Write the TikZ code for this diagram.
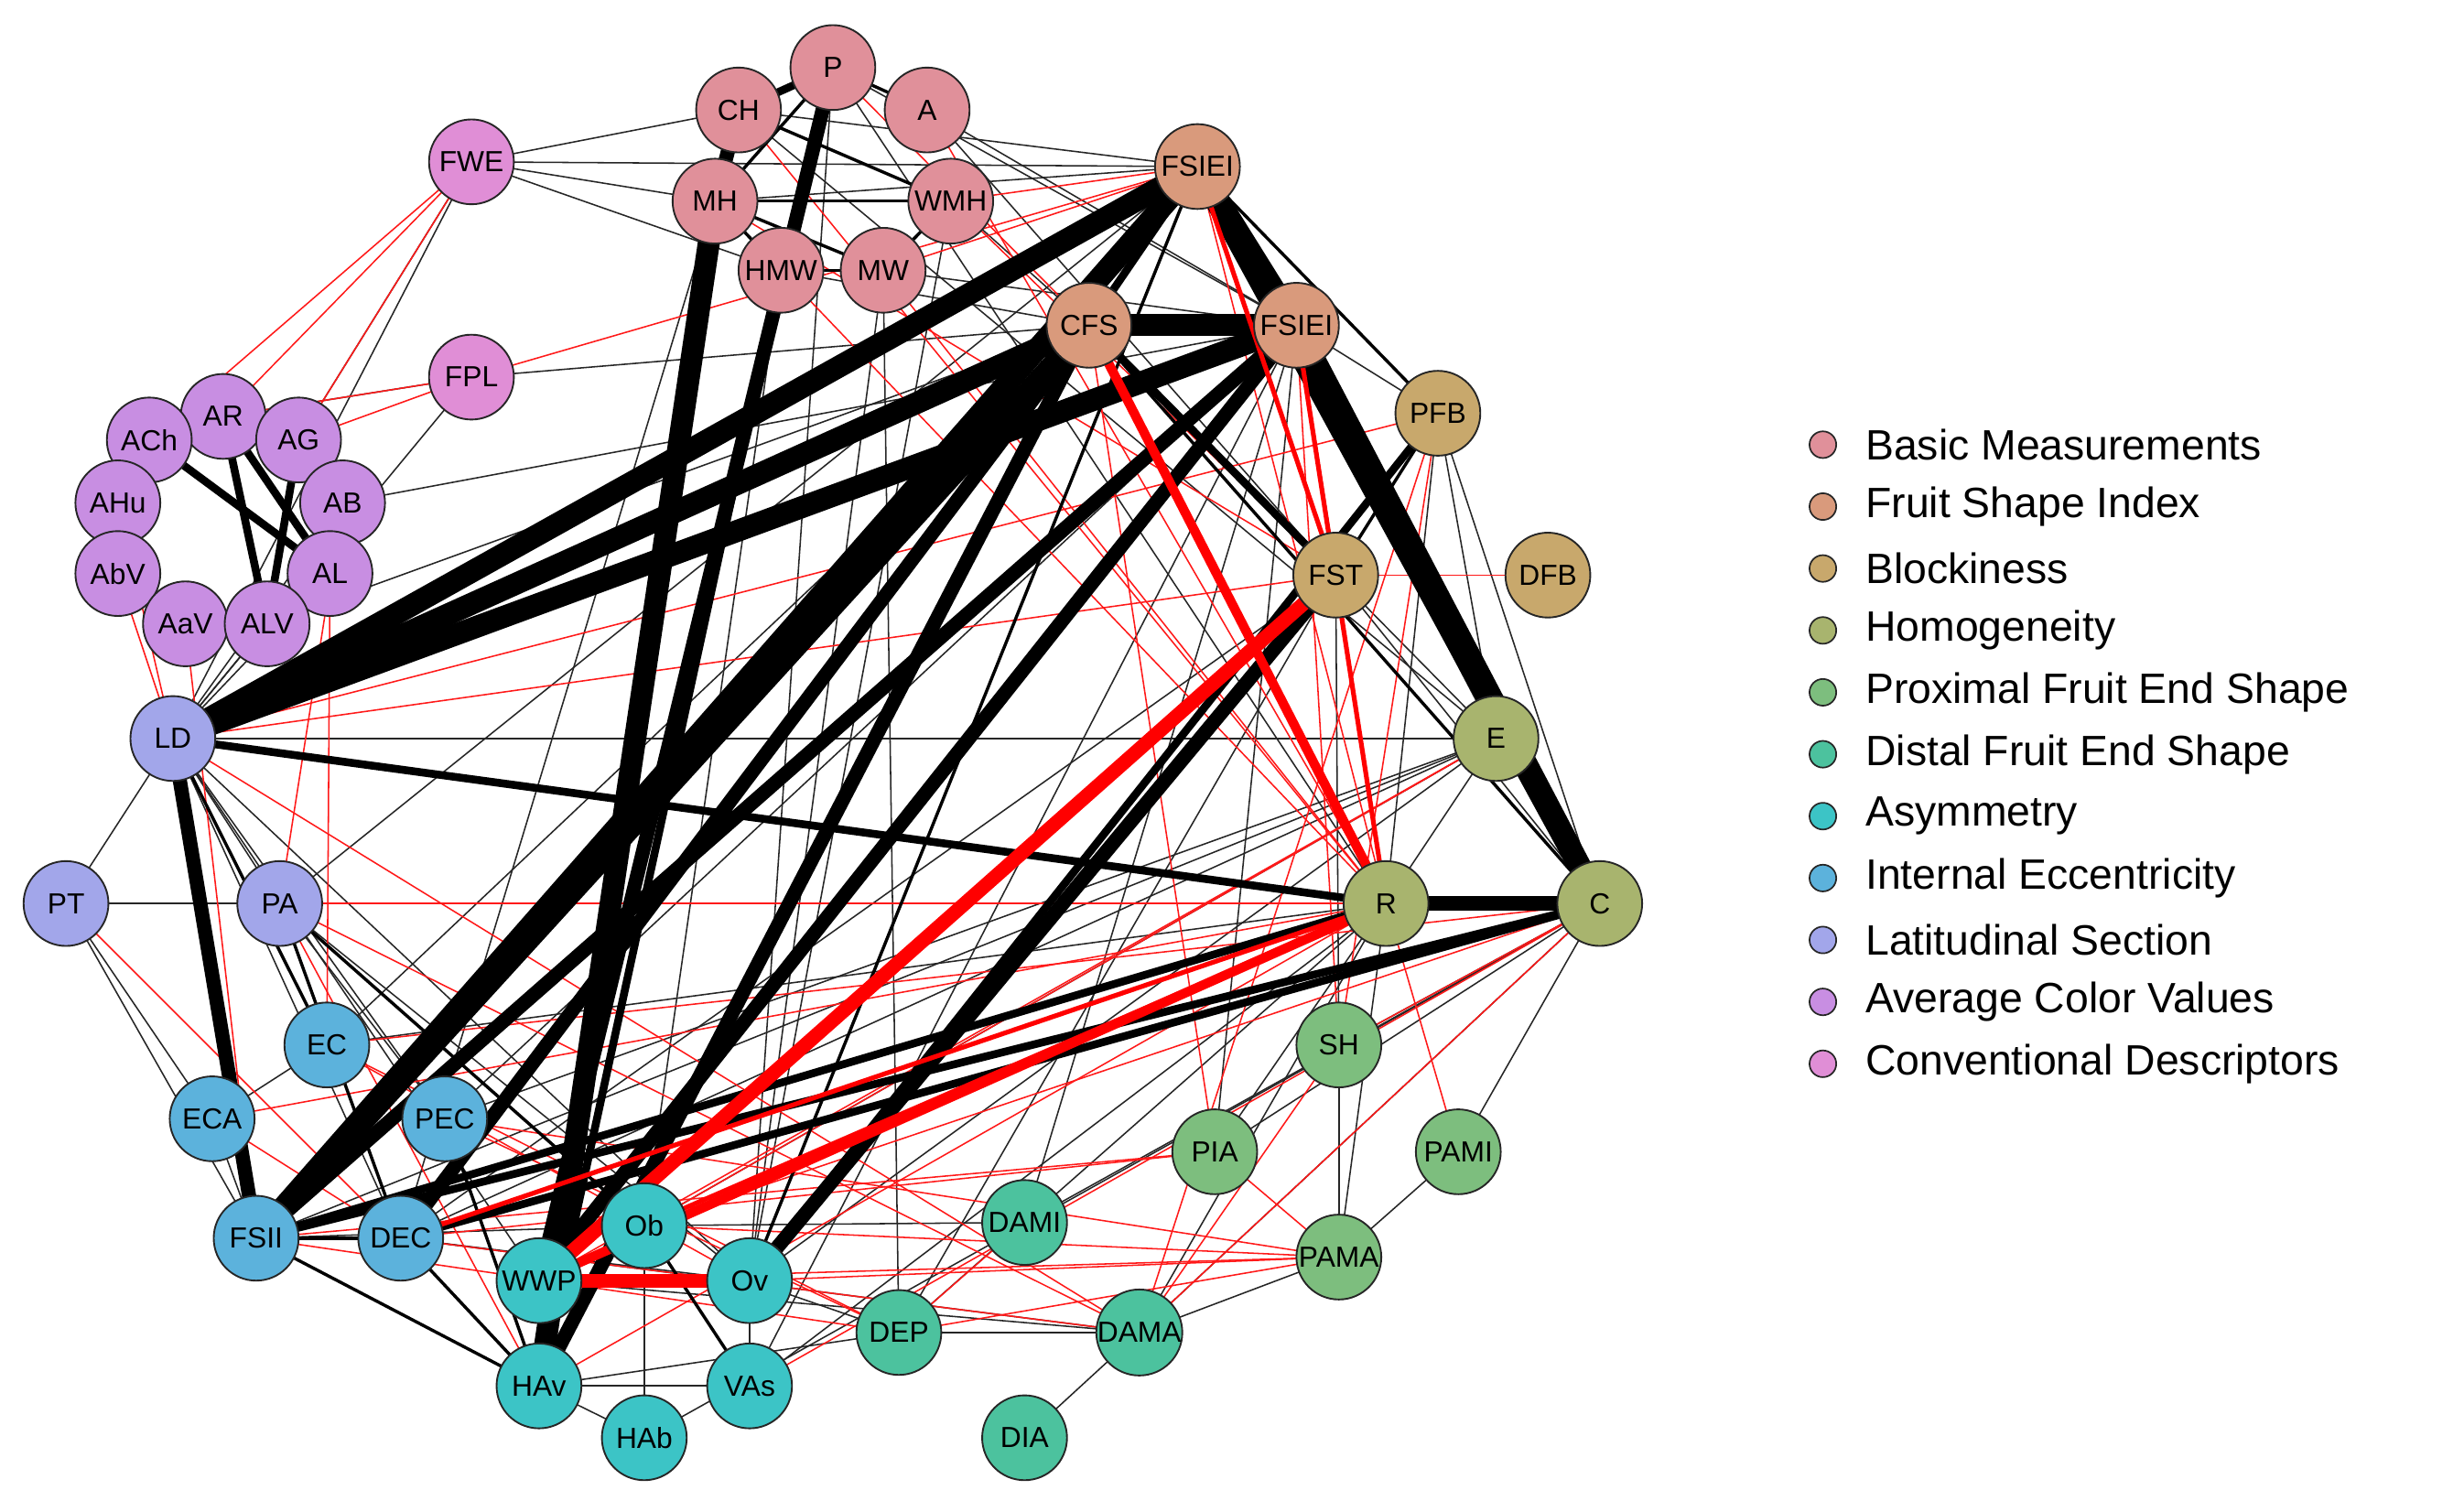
\documentclass[tikz,border=0pt]{standalone}
\usepackage{fontspec}
\setmainfont{Liberation Sans}
\begin{document}
\begin{tikzpicture}[x=1pt,y=-1pt,
 nd/.style={circle,draw=black!85,line width=1.1pt,minimum size=54pt,inner sep=0pt,font=\fontsize{18.5}{18.5}\selectfont},
 b1/.style={black!85,line width=0.9pt},
 b2/.style={black,line width=2pt},
 b3/.style={black,line width=5pt},
 b4/.style={black,line width=9pt},
 b5/.style={black,line width=14pt},
 r1/.style={red!90,line width=0.9pt},
 r2/.style={red,line width=3pt},
 r3/.style={red,line width=6pt},
 r4/.style={red,line width=9pt},
 lg/.style={circle,draw=black!85,line width=1pt,minimum size=17pt,inner sep=0pt}]
\definecolor{cB}{HTML}{E0909A}\definecolor{cF}{HTML}{D99A7C}\definecolor{cK}{HTML}{C8A86C}
\definecolor{cH}{HTML}{A8B46E}\definecolor{cP}{HTML}{7DBE7E}\definecolor{cD}{HTML}{4CC29E}
\definecolor{cA}{HTML}{3CC4C6}\definecolor{cI}{HTML}{5CB2DC}\definecolor{cL}{HTML}{A2A6EA}
\definecolor{cV}{HTML}{C88EE2}\definecolor{cC}{HTML}{E08ED6}
\useasboundingbox (0,0) rectangle (1568,955);
\foreach \n/\x/\y in {P/530/43,CH/470/70,A/590/70,FWE/300/103,MH/455/128,WMH/605/128,HMW/497/172,MW/562/172,
 FSa/762/106,CFS/693/207,FSb/825/207,FPL/300/240,PFB/915/263,AR/142/265,ACh/95/280,AG/190/280,AHu/75/320,AB/218/320,
 AbV/75/365,AL/210/365,AaV/118/397,ALV/170/397,FST/850/366,DFB/985/366,LD/110/470,E/952/470,PT/42/575,PA/178/575,
 R/882/575,C/1018/575,EC/208/665,SH/852/665,ECA/135/712,PEC/283/712,PIA/773/733,PAMI/928/733,FSII/163/788,DEC/255/788,
 Ob/410/780,DAMI/652/778,WWP/343/815,Ov/477/815,PAMA/852/800,DEP/572/848,DAMA/725/848,HAv/343/882,VAs/477/882,
 HAb/410/915,DIA/652/915}{\coordinate (q\n) at (\x,\y);}
% thin edges
\foreach \a/\b in {FWE/MH,FWE/CH,FWE/FSa,FWE/HMW,FWE/LD,FPL/CFS,FPL/LD,LD/PT,PT/PA,PT/ECA,LD/PA,LD/E,LD/EC,LD/DEC,LD/PEC,PA/PEC,EC/ECA,ECA/FSII,
 PT/FSII,HAv/HAb,Ob/HAb,VAs/Ov,Ov/DEP,DAMA/DIA,DAMA/PAMA,PAMA/PAMI,PAMA/SH,SH/C,E/C,E/R,E/FSII,E/DEC,PFB/C,PFB/E,PFB/R,FSa/PFB,FSb/PFB,
 FSa/E,FSb/E,CFS/E,CFS/C,MH/FSa,CH/FSa,P/FSb,A/FSb,MW/FSb,WMH/CFS,HMW/CFS,P/R,A/FST,CH/E,MH/DEC,MW/Ov,MW/DEP,WMH/Ov,HMW/Ob,P/Ov,
 DAMI/C,DAMI/FSb,DEP/FST,DEP/R,DAMA/R,DAMA/C,PIA/R,PIA/FSb,SH/FST,PAMI/C,VAs/FSb,VAs/R,HAb/C,Ob/E,Ov/E,DEC/FST,PEC/FSb,PEC/E,EC/R,
 PA/C,PA/FSa,EC/CFS,PT/R,LD/Ov,LD/WWP,PA/Ov,WWP/DAMA,Ob/DAMI,HAv/DEP,FSII/Ob,DEC/Ov,HAv/VAs,PAMA/R,PIA/C,DEP/DAMA,FST/C,
 AR/FPL,AG/FWE,AB/LD,AL/LD,ALV/LD,ALV/CFS,AB/FSb,DEC/DAMA}{\draw[b1] (q\a) -- (q\b);}
\foreach \a/\b in {FWE/AR,FWE/AG,FWE/ACh,FPL/AG,FPL/AR,AB/PA,AL/EC,LD/FST,LD/PFB,PA/R,PA/DAMA,EC/C,ECA/R,FSII/DEP,DEC/DAMA,PEC/PAMA,
 WWP/PAMA,Ob/PAMA,Ov/PAMA,DEP/PAMA,PIA/PAMA,DAMA/SH,DAMA/C,VAs/C,HAv/R,Ob/C,MH/FST,MW/R,WMH/FST,P/FST,HMW/R,CH/R,A/R,FSa/R,
 FSb/FST,PFB/FST,FST/DFB,PFB/DAMA,PFB/SH,FSb/SH,CFS/PIA,E/WWP,E/Ob,LD/DAMA,PT/DEC,PA/HAv,EC/Ov,EC/DEP,PEC/DEP,FSII/PIA,DEC/PIA,
 ECA/DEC,AbV/LD,AaV/FSII,AHu/LD,FSa/WMH,MW/FSa,CFS/R,FPL/FSa,DAMI/DEP,SH/C,PAMI/R}{\draw[r1] (q\a) -- (q\b);}
% medium & thick
\foreach \a/\b in {P/A,P/MH,MH/WMH,CH/WMH,MH/MW,HMW/MW,WMH/MW,MH/HMW,FSII/HAv,FSII/DEC,DEC/HAv,WWP/HAv,PA/DEC,PA/Ob,PEC/HAv,LD/EC,
 Ob/VAs,FSb/FST,PFB/FST,FSa/PFB,AHu/AbV,AbV/AaV,AaV/ALV,ALV/AL,AL/AB,AB/AG,ACh/AHu,CFS/C,Ov/FSa}{\draw[b2] (q\a) -- (q\b);}
\foreach \a/\b in {P/CH,AR/ACh,AR/AG,AR/AL,AG/ALV,AR/ALV,ACh/AL,HAv/HMW,DEC/C,FSII/R,LD/R,FSa/CFS,CFS/FST,Ov/PFB,FSII/C}{\draw[b3] (q\a) -- (q\b);}
\foreach \a/\b in {CH/MH,WWP/P,HAv/CFS,Ov/FST,LD/FSII,R/C,FSII/FSb,WWP/FSb,DEC/CFS}{\draw[b4] (q\a) -- (q\b);}
\foreach \a/\b in {LD/FSa,LD/CFS,LD/FSb,FSII/FSa,FSII/CFS,HAv/MH,FSa/FSb,FSb/C,CFS/FSb,FSa/C}{\draw[b5] (q\a) -- (q\b);}
\foreach \a/\b in {FSb/R,FSa/FST,Ob/R,DEC/R}{\draw[r2] (q\a) -- (q\b);}
\foreach \a/\b in {CFS/R,WWP/R}{\draw[r3] (q\a) -- (q\b);}
\foreach \a/\b in {WWP/Ov,WWP/FST}{\draw[r4] (q\a) -- (q\b);}
% nodes
\foreach \n/\t/\c in {P/P/cB,CH/CH/cB,A/A/cB,MH/MH/cB,WMH/WMH/cB,HMW/HMW/cB,MW/MW/cB,FSa/FSIEI/cF,CFS/CFS/cF,FSb/FSIEI/cF,
 PFB/PFB/cK,FST/FST/cK,DFB/DFB/cK,E/E/cH,R/R/cH,C/C/cH,SH/SH/cP,PIA/PIA/cP,PAMI/PAMI/cP,PAMA/PAMA/cP,
 DAMI/DAMI/cD,DEP/DEP/cD,DAMA/DAMA/cD,DIA/DIA/cD,Ob/Ob/cA,WWP/WWP/cA,Ov/Ov/cA,HAv/HAv/cA,VAs/VAs/cA,HAb/HAb/cA,
 EC/EC/cI,ECA/ECA/cI,PEC/PEC/cI,FSII/FSII/cI,DEC/DEC/cI,LD/LD/cL,PT/PT/cL,PA/PA/cL,
 AR/AR/cV,ACh/ACh/cV,AG/AG/cV,AHu/AHu/cV,AB/AB/cV,AbV/AbV/cV,AL/AL/cV,AaV/AaV/cV,ALV/ALV/cV,FWE/FWE/cC,FPL/FPL/cC}
 {\node[nd,fill=\c] (\n) at (q\n) {\t};}
% legend
\foreach \c/\t [count=\i] in {cB/Basic Measurements,cF/Fruit Shape Index,cK/Blockiness,cH/Homogeneity,cP/Proximal Fruit End Shape,
 cD/Distal Fruit End Shape,cA/Asymmetry,cI/Internal Eccentricity,cL/Latitudinal Section,cV/Average Color Values,cC/Conventional Descriptors}
 {\node[lg,fill=\c] (L\i) at (1160,{283+39.4*(\i-1)}) {};
  \node[anchor=west,font=\fontsize{27}{27}\selectfont,inner sep=0pt] (T\i) at (1187,{283+39.4*(\i-1)}) {\t};}
\end{tikzpicture}
\end{document}
